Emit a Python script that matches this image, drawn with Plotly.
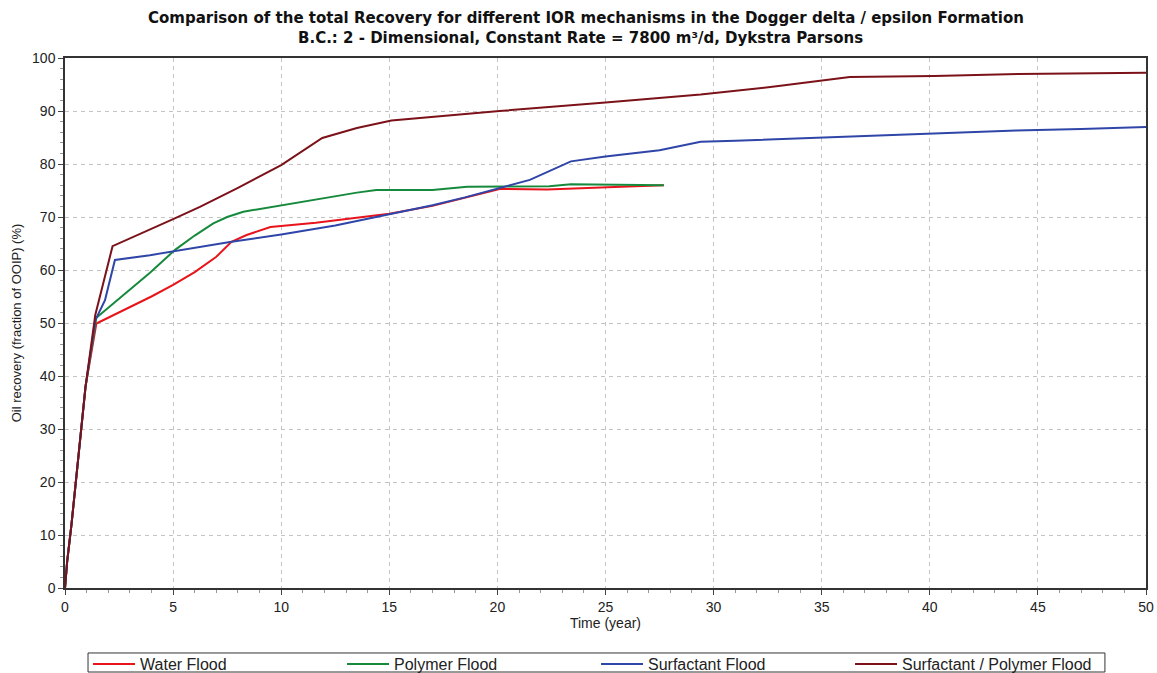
import plotly.graph_objects as go

# Recovery curves (time in years, recovery in % of OOIP)
water_t = [0, 0.1, 0.3, 0.6, 0.95, 1.45, 3.0, 4.0, 5.0, 6.0, 7.0, 7.7, 8.4, 9.5, 11.6, 13.0,
           15.0, 17.0, 18.5, 20.1, 22.3, 24.4, 25.1, 27.7]
water_v = [0, 5, 12, 24, 38, 49.9, 53.0, 55.0, 57.2, 59.6, 62.5, 65.3, 66.6, 68.1, 68.9, 69.6,
           70.6, 72.1, 73.6, 75.3, 75.2, 75.4, 75.6, 76.0]

polymer_t = [0, 0.1, 0.3, 0.6, 0.95, 1.45, 3.93, 5.09, 6.0, 6.86, 7.5, 8.25, 10.1, 12.0, 13.5,
             14.4, 17.0, 18.6, 22.4, 23.4, 27.7]
polymer_v = [0, 5, 12, 24, 38, 51.0, 59.5, 63.8, 66.5, 68.8, 70.0, 71.0, 72.3, 73.6, 74.6,
             75.1, 75.1, 75.7, 75.8, 76.2, 76.0]

surf_t = [0, 0.1, 0.3, 0.6, 0.95, 1.4, 1.85, 2.0, 2.31, 3.93, 5.0, 7.63, 10.0, 12.5, 15.0,
          17.0, 18.5, 20.1, 21.5, 23.4, 25.0, 27.5, 29.4, 31.0, 33.0, 36.0, 40.0, 44.0, 47.0, 50.0]
surf_v = [0, 5, 12, 24, 38, 50.5, 54.3, 56.8, 61.9, 62.8, 63.5, 65.3, 66.7, 68.4, 70.5,
          72.2, 73.7, 75.4, 77.0, 80.5, 81.4, 82.6, 84.2, 84.4, 84.7, 85.2, 85.7, 86.3, 86.6, 87.0]

sp_t = [0, 0.1, 0.3, 0.6, 0.95, 1.4, 2.2, 5.0, 6.24, 8.0, 10.0, 11.9, 13.5, 15.1, 17.0, 20.1,
        25.0, 29.4, 33.0, 36.3, 40.2, 44.1, 50.0]
sp_v = [0, 5, 12, 24, 38, 51.5, 64.5, 69.6, 71.9, 75.5, 79.8, 84.9, 86.8, 88.2, 88.9, 90.0,
        91.6, 93.1, 94.7, 96.4, 96.6, 97.0, 97.2]

series = [
    ("Water Flood", water_t, water_v, "#e8141c"),
    ("Polymer Flood", polymer_t, polymer_v, "#168a3c"),
    ("Surfactant Flood", surf_t, surf_v, "#2f45a8"),
    ("Surfactant / Polymer Flood", sp_t, sp_v, "#7c1219"),
]

title_lines = [
    "Comparison of the total Recovery for different IOR mechanisms in the Dogger delta / epsilon Formation",
    "B.C.: 2 - Dimensional, Constant Rate = 7800 m³/d, Dykstra Parsons",
]

SANS = "Liberation Sans, Arial, sans-serif"

fig = go.Figure()
for name, t, v, col in series:
    fig.add_trace(go.Scatter(x=t, y=v, mode="lines", name=name,
                             line=dict(color=col, width=2)))

axis_common = dict(
    showline=True, linecolor="#333333", linewidth=1.5, mirror=True,
    showgrid=True, gridcolor="#c4c4c4", griddash="4px,4px", gridwidth=1,
    zeroline=False, ticks="outside", ticklen=5, tickcolor="#444444",
    tickfont=dict(family=SANS, size=14, color="#222222"),
    automargin=False,
)

fig.update_xaxes(range=[0, 50], dtick=5,
                 minor=dict(dtick=1, ticks="outside", ticklen=3, tickcolor="#999999", showgrid=False),
                 title=dict(text="Time (year)", font=dict(family=SANS, size=14, color="#222222"),
                            standoff=0),
                 **axis_common)
fig.update_yaxes(range=[0, 100], dtick=10,
                 minor=dict(dtick=2, ticks="outside", ticklen=3, tickcolor="#999999", showgrid=False),
                 title=dict(text="Oil recovery (fraction of OOIP) (%)",
                            font=dict(family=SANS, size=13, color="#222222"),
                            standoff=8),
                 **axis_common)

# two-line bold heading above the plot area
for line, xpos, ypos in zip(title_lines, [0.482, 0.477], [1.0755, 1.0377]):
    fig.add_annotation(text=f"<b>{line}</b>", xref="paper", yref="paper",
                       x=xpos, y=ypos, xanchor="center", yanchor="middle", showarrow=False,
                       font=dict(family="DejaVu Sans, Verdana, sans-serif", size=15, color="#111111"))

# frame around the legend row
fig.add_shape(type="rect", xref="paper", yref="paper",
              x0=0.0213, x1=0.962, y0=-0.1585, y1=-0.1226,
              line=dict(color="#333333", width=1), fillcolor="white", layer="below")

fig.update_layout(
    width=1157, height=673,
    margin=dict(l=65, r=11, t=58, b=85, autoexpand=False),
    paper_bgcolor="white", plot_bgcolor="white",
    legend=dict(
        orientation="h", x=0.0213, xanchor="left", y=-0.1113, yanchor="top",
        borderwidth=0, bgcolor="rgba(0,0,0,0)",
        entrywidth=197, entrywidthmode="pixels", itemwidth=42,
        font=dict(family=SANS, size=16, color="#222222"),
        tracegroupgap=0,
    ),
    showlegend=True,
)

fig.write_html("out.html")
